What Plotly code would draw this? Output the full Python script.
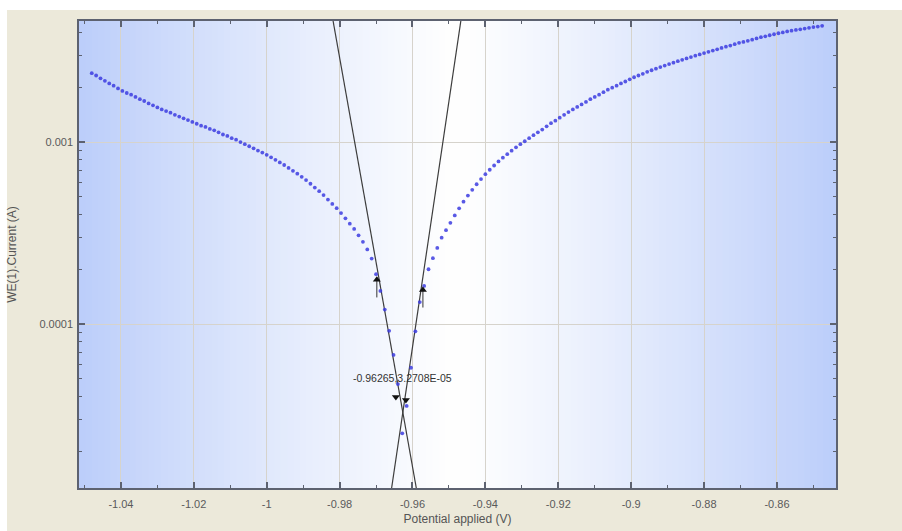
import numpy as np
import plotly.graph_objects as go

# ---------------- data ----------------
potential_cathodic = [
    -1.0480, -1.0468, -1.0456, -1.0444, -1.0432, -1.0420, -1.0408, -1.0396, -1.0384, -1.0372,
    -1.0360, -1.0348, -1.0336, -1.0324, -1.0312, -1.0300, -1.0288, -1.0276, -1.0264, -1.0252,
    -1.0240, -1.0228, -1.0216, -1.0204, -1.0192, -1.0180, -1.0168, -1.0156, -1.0144, -1.0132,
    -1.0120, -1.0108, -1.0096, -1.0084, -1.0072, -1.0060, -1.0048, -1.0036, -1.0024, -1.0012,
    -1.0000, -0.9988, -0.9976, -0.9964, -0.9952, -0.9940, -0.9928, -0.9916, -0.9904, -0.9892,
    -0.9880, -0.9868, -0.9856, -0.9844, -0.9832, -0.9820, -0.9808, -0.9796, -0.9784, -0.9772,
    -0.9760, -0.9748, -0.9736, -0.9724, -0.9712, -0.9700, -0.9688, -0.9676, -0.9664, -0.9652,
    -0.9640, -0.9628]
current_cathodic = [
    2.39e-3, 2.32e-3, 2.24e-3, 2.17e-3, 2.10e-3, 2.04e-3, 1.97e-3, 1.91e-3, 1.86e-3, 1.82e-3,
    1.77e-3, 1.72e-3, 1.68e-3, 1.63e-3, 1.59e-3, 1.55e-3, 1.51e-3, 1.48e-3, 1.45e-3, 1.41e-3,
    1.38e-3, 1.35e-3, 1.32e-3, 1.29e-3, 1.26e-3, 1.23e-3, 1.21e-3, 1.18e-3, 1.16e-3, 1.13e-3,
    1.10e-3, 1.08e-3, 1.05e-3, 1.03e-3, 1.00e-3, 9.73e-4, 9.48e-4, 9.23e-4, 8.98e-4, 8.75e-4,
    8.51e-4, 8.24e-4, 7.98e-4, 7.73e-4, 7.48e-4, 7.21e-4, 6.95e-4, 6.70e-4, 6.44e-4, 6.18e-4,
    5.90e-4, 5.62e-4, 5.37e-4, 5.11e-4, 4.83e-4, 4.57e-4, 4.33e-4, 4.07e-4, 3.81e-4, 3.56e-4,
    3.33e-4, 3.07e-4, 2.83e-4, 2.57e-4, 2.29e-4, 1.88e-4, 1.52e-4, 1.20e-4, 9.18e-5, 6.76e-5,
    4.68e-5, 2.51e-5]

potential_anodic = [
    -0.9616, -0.9604, -0.9592, -0.9580, -0.9568, -0.9556, -0.9544, -0.9532, -0.9520, -0.9508,
    -0.9496, -0.9484, -0.9472, -0.9460, -0.9448, -0.9436, -0.9424, -0.9412, -0.9400, -0.9388,
    -0.9376, -0.9364, -0.9352, -0.9340, -0.9328, -0.9316, -0.9304, -0.9292, -0.9280, -0.9268,
    -0.9256, -0.9244, -0.9232, -0.9220, -0.9208, -0.9196, -0.9184, -0.9172, -0.9160, -0.9148,
    -0.9136, -0.9124, -0.9112, -0.9100, -0.9088, -0.9076, -0.9064, -0.9052, -0.9040, -0.9028,
    -0.9016, -0.9004, -0.8992, -0.8980, -0.8968, -0.8956, -0.8944, -0.8932, -0.8920, -0.8908,
    -0.8896, -0.8884, -0.8872, -0.8860, -0.8848, -0.8836, -0.8824, -0.8812, -0.8800, -0.8788,
    -0.8776, -0.8764, -0.8752, -0.8740, -0.8728, -0.8716, -0.8704, -0.8692, -0.8680, -0.8668,
    -0.8656, -0.8644, -0.8632, -0.8620, -0.8608, -0.8596, -0.8584, -0.8572, -0.8560, -0.8548,
    -0.8536, -0.8524, -0.8512, -0.8500, -0.8488, -0.8476]
current_anodic = [
    3.55e-5, 5.75e-5, 9.12e-5, 1.32e-4, 1.62e-4, 2.00e-4, 2.30e-4, 2.62e-4, 2.98e-4, 3.28e-4,
    3.60e-4, 3.95e-4, 4.32e-4, 4.70e-4, 5.08e-4, 5.46e-4, 5.86e-4, 6.26e-4, 6.66e-4, 7.04e-4,
    7.43e-4, 7.82e-4, 8.20e-4, 8.58e-4, 8.96e-4, 9.35e-4, 9.73e-4, 1.01e-3, 1.05e-3, 1.09e-3,
    1.13e-3, 1.17e-3, 1.22e-3, 1.27e-3, 1.31e-3, 1.36e-3, 1.41e-3, 1.46e-3, 1.51e-3, 1.56e-3,
    1.61e-3, 1.66e-3, 1.72e-3, 1.77e-3, 1.82e-3, 1.88e-3, 1.94e-3, 1.99e-3, 2.04e-3, 2.10e-3,
    2.15e-3, 2.21e-3, 2.27e-3, 2.32e-3, 2.37e-3, 2.43e-3, 2.48e-3, 2.53e-3, 2.58e-3, 2.63e-3,
    2.68e-3, 2.73e-3, 2.78e-3, 2.83e-3, 2.88e-3, 2.93e-3, 2.98e-3, 3.03e-3, 3.08e-3, 3.13e-3,
    3.18e-3, 3.23e-3, 3.29e-3, 3.34e-3, 3.39e-3, 3.45e-3, 3.51e-3, 3.55e-3, 3.60e-3, 3.65e-3,
    3.71e-3, 3.77e-3, 3.81e-3, 3.86e-3, 3.91e-3, 3.96e-3, 4.00e-3, 4.05e-3, 4.09e-3, 4.13e-3,
    4.16e-3, 4.20e-3, 4.24e-3, 4.28e-3, 4.31e-3, 4.35e-3]

# Tafel fit result
e_corr = -0.96265          # V
i_corr = 3.2708e-5         # A
beta_cathodic = 0.0089     # V / decade
beta_anodic = 0.0074       # V / decade
fit_start_potential = [-0.96978, -0.95714]
fit_start_current = [1.75e-4, 1.54e-4]
fit_end_potential = [-0.96456, -0.96181]
fit_end_current = [3.97e-5, 3.82e-5]
annotation_text = "-0.96265,3.2708E-05"

x_tick_vals = [-1.04, -1.02, -1.00, -0.98, -0.96, -0.94, -0.92, -0.90, -0.88, -0.86]
x_tick_text = ["-1.04", "-1.02", "-1", "-0.98", "-0.96", "-0.94", "-0.92", "-0.9", "-0.88", "-0.86"]
x_minor_vals = [-1.05, -1.03, -1.01, -0.99, -0.97, -0.95, -0.93, -0.91, -0.89, -0.87, -0.85]
y_tick_vals = [1e-4, 1e-3]
y_tick_text = ["0.0001", "0.001"]
y_minor_vals = [2e-5, 3e-5, 4e-5, 5e-5, 6e-5, 7e-5, 8e-5, 9e-5,
                2e-4, 3e-4, 4e-4, 5e-4, 6e-4, 7e-4, 8e-4, 9e-4,
                2e-3, 3e-3, 4e-3]

x_range = [-1.0515, -0.8438]
y_range_log = [-4.901, -2.335]

# ---------------- figure ----------------
FONT = "Liberation Sans, Arial, sans-serif"
AX = "#5d6270"
GRID = "#d6d3cc"

fig = go.Figure()

# Tafel lines
def tafel_line(beta_sign, beta):
    logs = np.array(y_range_log)
    xs = e_corr + beta_sign * beta * (logs - np.log10(i_corr))
    return xs, 10 ** logs

xa, ya = tafel_line(-1, beta_cathodic)
xb, yb = tafel_line(+1, beta_anodic)
for xs, ys in [(xa, ya), (xb, yb)]:
    fig.add_trace(go.Scatter(x=xs, y=ys, mode="lines",
                             line=dict(color="#3c3c3c", width=1.2),
                             hoverinfo="skip", showlegend=False))

# measured data
fig.add_trace(go.Scatter(
    x=potential_cathodic + potential_anodic,
    y=current_cathodic + current_anodic,
    mode="markers",
    marker=dict(color="rgba(60,60,225,0.85)", size=3.8, line=dict(width=0)),
    showlegend=False))

# fit range markers
fig.add_trace(go.Scatter(
    x=fit_start_potential, y=fit_start_current, mode="markers",
    marker=dict(symbol="triangle-up", size=7, color="#111111"),
    error_y=dict(type="data", symmetric=False,
                 array=[0, 0],
                 arrayminus=[c * 0.2 for c in fit_start_current],
                 color="#333333", thickness=1, width=0),
    showlegend=False))
fig.add_trace(go.Scatter(
    x=fit_end_potential, y=fit_end_current, mode="markers",
    marker=dict(symbol="triangle-down", size=7, color="#111111"),
    showlegend=False))

fig.add_annotation(x=e_corr, y=np.log10(i_corr), text=annotation_text,
                   showarrow=False, yshift=34,
                   font=dict(family=FONT, size=10.5, color="#333333"))

# background gradient strips inside the plot area
shapes = []
N = 120
edge = np.array([188, 206, 250])
white = np.array([255, 255, 255])
for k in range(N):
    x0 = k / N
    x1 = (k + 1) / N + 0.003
    mid = (k + 0.5) / N
    t = min(1.0, abs(mid - 0.5) / 0.5)
    t = t ** 1.15
    c = white + (edge - white) * t
    shapes.append(dict(type="rect", xref="x domain", yref="y domain",
                       x0=x0, x1=min(x1, 1.0), y0=0, y1=1, layer="below",
                       line=dict(width=0),
                       fillcolor=f"rgb({int(c[0])},{int(c[1])},{int(c[2])})"))
# thin white border strips outside the beige panel
shapes.append(dict(type="rect", xref="paper", yref="paper", x0=-0.2, x1=1.2,
                   y0=1.0236, y1=1.2, line=dict(width=0), fillcolor="white", layer="below"))
shapes.append(dict(type="rect", xref="paper", yref="paper", x0=-0.2, x1=-0.0951,
                   y0=-0.2, y1=1.2, line=dict(width=0), fillcolor="white", layer="below"))

fig.update_layout(
    width=902, height=531,
    margin=dict(l=79, r=66, t=21, b=43),
    paper_bgcolor="#ece9da",
    plot_bgcolor="white",
    shapes=shapes,
    font=dict(family=FONT, size=11, color="#5a5a5a"),
    showlegend=False,
)

fig.update_xaxes(
    range=x_range, tickmode="array", tickvals=x_tick_vals, ticktext=x_tick_text,
    automargin=False,
    ticks="inside", ticklen=6, tickwidth=1.5, tickcolor=AX,
    showline=True, linecolor=AX, linewidth=1.5, mirror="ticks",
    showgrid=True, gridcolor=GRID, gridwidth=1, zeroline=False,
    tickfont=dict(size=11, color="#5a5a5a"), ticklabelstandoff=5,
    minor=dict(tickmode="array", tickvals=x_minor_vals, ticks="inside",
               ticklen=3, tickwidth=1.2, tickcolor=AX, showgrid=False),
    title=dict(text="Potential applied (V)", standoff=6,
               font=dict(size=12, color="#555555")),
)
fig.update_yaxes(
    type="log", range=y_range_log, tickmode="array", tickvals=y_tick_vals,
    ticktext=y_tick_text,
    automargin=False,
    ticks="inside", ticklen=6, tickwidth=1.5, tickcolor=AX,
    showline=True, linecolor=AX, linewidth=1.5, mirror="ticks",
    showgrid=True, gridcolor=GRID, gridwidth=1, zeroline=False,
    tickfont=dict(size=11, color="#5a5a5a"), ticklabelstandoff=2,
    minor=dict(tickmode="array", tickvals=y_minor_vals, ticks="inside",
               ticklen=3, tickwidth=1.2, tickcolor=AX, showgrid=False),
    title=dict(text="WE(1).Current (A)", standoff=20,
               font=dict(size=12, color="#555555")),
)

fig.write_html("out.html")
